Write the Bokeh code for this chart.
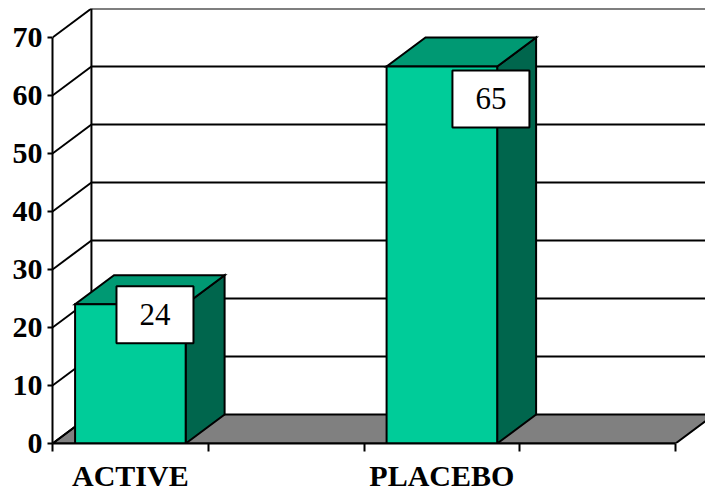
from bokeh.plotting import figure
from bokeh.models import Range1d, FixedTicker, LinearAxis
from bokeh.embed import file_html
from bokeh.resources import INLINE
from bokeh.core.properties import value

# ---- data ----
categories = ["ACTIVE", "", "PLACEBO", ""]
bar_categories = ["ACTIVE", "PLACEBO"]
bar_values = [24, 65]
bar_labels = ["24", "65"]
y_ticks = [0, 10, 20, 30, 40, 50, 60, 70]

# ---- layout / style ----
W, H = 705, 494
BORDER_LEFT = 52
BORDER_TOP = 8
BORDER_BOTTOM = 51
FRONT_PX = 623          # pixel width of the front plane (all categories)
Y_MAX = 75
Y_AXIS_TOP = 70
DX = 0.25               # depth in category units
DY = 5                  # depth in value units
BAR_W = 0.71
LABEL_DX = [0.158, 0.315]
LABEL_DY = [-1.8, -5.6]
FRONT = "#00CC99"
TOP = "#009973"
SIDE = "#00664D"
FLOOR = "#808080"
LW = 2
SERIF = "Liberation Serif"

n_cat = len(categories)
x_end = n_cat * (W - BORDER_LEFT) / FRONT_PX

p = figure(width=W, height=H, x_range=Range1d(0, x_end), y_range=Range1d(0, Y_MAX),
           output_backend="svg", toolbar_location=None,
           x_axis_type=None, y_axis_type=None,
           min_border_left=BORDER_LEFT, min_border_right=0,
           min_border_top=BORDER_TOP, min_border_bottom=BORDER_BOTTOM,
           outline_line_color=None, background_fill_color="white",
           border_fill_color="white")

# back wall gridlines
gy = [v + DY for v in y_ticks if v > 0]
p.segment(x0=[DX] * len(gy), y0=gy, x1=[n_cat + 2 * DX] * len(gy), y1=gy,
          line_color="black", line_width=LW)
# back wall left edge
p.segment(x0=[DX], y0=[DY], x1=[DX], y1=[Y_AXIS_TOP + DY], line_color="black", line_width=LW)

# floor
p.patch(x=[0, n_cat, n_cat + DX, DX], y=[0, 0, DY, DY], fill_color=FLOOR,
        line_color="black", line_width=LW, line_join="miter")

# diagonals from front axis ticks to back wall
p.segment(x0=[0] * len(y_ticks), y0=y_ticks, x1=[DX] * len(y_ticks),
          y1=[v + DY for v in y_ticks], line_color="black", line_width=LW)

# bars
centers = [categories.index(c) + 0.5 for c in bar_categories]
lefts = [c - BAR_W / 2 for c in centers]
rights = [c + BAR_W / 2 for c in centers]

top_xs, top_ys, side_xs, side_ys = [], [], [], []
for l, r, v in zip(lefts, rights, bar_values):
    top_xs.append([l, r, r + DX, l + DX])
    top_ys.append([v, v, v + DY, v + DY])
    side_xs.append([r, r + DX, r + DX, r])
    side_ys.append([0, DY, v + DY, v])

p.patches(xs=side_xs, ys=side_ys, fill_color=SIDE, line_color="black", line_width=LW,
          line_join="miter")
p.patches(xs=top_xs, ys=top_ys, fill_color=TOP, line_color="black", line_width=LW,
          line_join="miter")
p.quad(left=lefts, right=rights, bottom=[0] * len(bar_values), top=bar_values,
       fill_color=FRONT, line_color="black", line_width=LW, line_join="miter")

# value label boxes
lx = [c + d for c, d in zip(centers, LABEL_DX)]
ly = [v + d for v, d in zip(bar_values, LABEL_DY)]
p.rect(x=lx, y=ly, width=77, height=57, width_units="screen", height_units="screen",
       fill_color="white", line_color="black", line_width=LW)
p.text(x=lx, y=ly, text=bar_labels, text_align="center", text_baseline="middle",
       text_font=value(SERIF), text_font_size="31px", text_color="black")

# axes
yaxis = LinearAxis(ticker=FixedTicker(ticks=y_ticks), bounds=(0, Y_AXIS_TOP))
yaxis.axis_line_width = LW
yaxis.major_tick_line_width = LW
yaxis.major_tick_out = 5
yaxis.major_tick_in = 0
yaxis.minor_tick_line_color = None
yaxis.major_label_standoff = 5
yaxis.major_label_text_font = SERIF
yaxis.major_label_text_font_style = "bold"
yaxis.major_label_text_font_size = "30px"
yaxis.major_label_text_color = "black"
p.add_layout(yaxis, "left")

label_pos = [i + 0.5 for i, c in enumerate(categories) if c]
xaxis = LinearAxis(ticker=FixedTicker(ticks=label_pos, minor_ticks=list(range(n_cat + 1))),
                   bounds=(0, n_cat))
xaxis.major_label_overrides = {pos: c for pos, c in zip(label_pos, [c for c in categories if c])}
xaxis.axis_line_width = LW
xaxis.major_tick_out = 0
xaxis.major_tick_in = 0
xaxis.major_tick_line_color = None
xaxis.minor_tick_out = 8
xaxis.minor_tick_in = 0
xaxis.minor_tick_line_width = LW
xaxis.minor_tick_line_color = "black"
xaxis.major_label_standoff = 7
xaxis.major_label_text_font = SERIF
xaxis.major_label_text_font_style = "bold"
xaxis.major_label_text_font_size = "30px"
xaxis.major_label_text_color = "black"
p.add_layout(xaxis, "below")

open("out.html", "w").write(file_html(p, INLINE))
